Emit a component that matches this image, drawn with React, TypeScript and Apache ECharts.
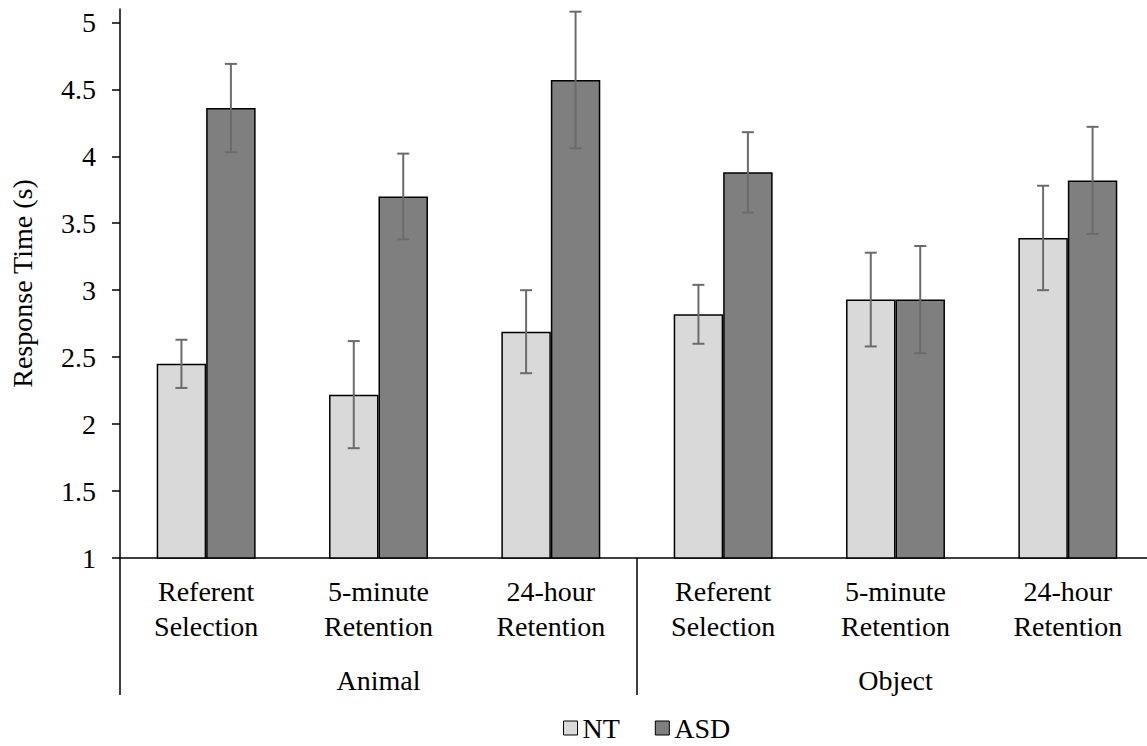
import React, { useEffect, useRef } from "react";
import * as echarts from "echarts";

const conditions = [
  "Referent\nSelection",
  "5-minute\nRetention",
  "24-hour\nRetention",
  "Referent\nSelection",
  "5-minute\nRetention",
  "24-hour\nRetention",
];
const groups = ["Animal", "Object"];
const ntMeans = [2.45, 2.22, 2.69, 2.82, 2.93, 3.39];
const ntErrors = [0.18, 0.4, 0.31, 0.22, 0.35, 0.39];
const asdMeans = [4.36, 3.7, 4.57, 3.88, 2.93, 3.82];
const asdErrors = [0.33, 0.32, 0.51, 0.3, 0.4, 0.4];
const yTicks = [1, 1.5, 2, 2.5, 3, 3.5, 4, 4.5, 5];

const FONT = '"Liberation Serif", "Times New Roman", Times, serif';
const FS = 28;
const BAR_RATIO = 0.287;

function errorSeries(name: string, means: number[], errs: number[], sign: number) {
  return {
    type: "custom",
    name: name + " error",
    z: 5,
    clip: false,
    silent: true,
    encode: { x: 0, y: 1 },
    data: means.map((m, i) => [i, m, errs[i]]),
    renderItem: (params: any, api: any) => {
      const idx = api.value(0);
      const mean = api.value(1);
      const err = api.value(2);
      const band = api.size([1, 0])[0];
      const bw = band * BAR_RATIO;
      const x = api.coord([idx, mean])[0] + (sign * bw) / 2;
      const yHi = api.coord([idx, mean + err])[1];
      const yLo = api.coord([idx, mean - err])[1];
      const cap = 6;
      const style = { stroke: "#6b6b6b", lineWidth: 2, fill: "none" };
      return {
        type: "group",
        children: [
          { type: "line", shape: { x1: x, y1: yHi, x2: x, y2: yLo }, style },
          { type: "line", shape: { x1: x - cap, y1: yHi, x2: x + cap, y2: yHi }, style },
          { type: "line", shape: { x1: x - cap, y1: yLo, x2: x + cap, y2: yLo }, style },
        ],
      };
    },
  };
}

export default function App() {
  const ref = useRef<HTMLDivElement>(null);
  useEffect(() => {
    if (!ref.current) return;
    const chart = echarts.init(ref.current, undefined, { renderer: "svg" });
    chart.setOption({
      animation: false,
      backgroundColor: "#ffffff",
      textStyle: { fontFamily: FONT, color: "#000" },
      grid: { left: 118, top: 9, width: 1036, height: 549, containLabel: false },
      legend: {
        data: ["NT", "ASD"],
        top: 709,
        left: 558,
        icon: "rect",
        itemWidth: 14,
        itemHeight: 14,
        itemGap: 35,
        textStyle: { fontFamily: FONT, fontSize: FS, color: "#000" },
        itemStyle: { borderColor: "#000", borderWidth: 1 },
      },
      xAxis: [
        {
          type: "category",
          data: conditions,
          position: "bottom",
          axisLine: { show: true, lineStyle: { color: "#000", width: 1.5 } },
          axisTick: { show: false },
          axisLabel: {
            interval: 0,
            margin: 16,
            fontFamily: FONT,
            fontSize: FS,
            color: "#000",
            lineHeight: 35,
          },
        },
        {
          type: "category",
          data: groups,
          position: "bottom",
          axisLine: { show: false },
          axisTick: { show: true, length: 137, lineStyle: { color: "#000", width: 1.5 } },
          axisLabel: {
            interval: 0,
            margin: 105,
            fontFamily: FONT,
            fontSize: FS,
            color: "#000",
            lineHeight: 35,
          },
        },
      ],
      yAxis: {
        type: "value",
        min: 1,
        max: 5.1,
        name: "Response Time (s)",
        nameLocation: "middle",
        nameGap: 84,
        nameTextStyle: { fontFamily: FONT, fontSize: FS, color: "#000" },
        axisLine: { show: true, lineStyle: { color: "#000", width: 1.5 } },
        axisTick: { show: true, length: 8, lineStyle: { color: "#000", width: 1.5 }, customValues: yTicks },
        axisLabel: { fontFamily: FONT, fontSize: FS, color: "#000", margin: 24, customValues: yTicks },
        splitLine: { show: false },
      },
      series: [
        {
          type: "bar",
          name: "NT",
          data: ntMeans,
          barWidth: (BAR_RATIO * 100).toFixed(1) + "%",
          barGap: "0%",
          itemStyle: { color: "#d9d9d9", borderColor: "#000", borderWidth: 1.5 },
          xAxisIndex: 0,
        },
        {
          type: "bar",
          name: "ASD",
          data: asdMeans,
          barWidth: (BAR_RATIO * 100).toFixed(1) + "%",
          barGap: "0%",
          itemStyle: { color: "#7f7f7f", borderColor: "#000", borderWidth: 1.5 },
          xAxisIndex: 0,
        },
        errorSeries("NT", ntMeans, ntErrors, -1),
        errorSeries("ASD", asdMeans, asdErrors, 1),
      ],
    });
    return () => chart.dispose();
  }, []);
  return (
    <div
      ref={ref}
      style={{ position: "fixed", left: 0, top: 0, width: 1160, height: 746, background: "#fff" }}
    />
  );
}
